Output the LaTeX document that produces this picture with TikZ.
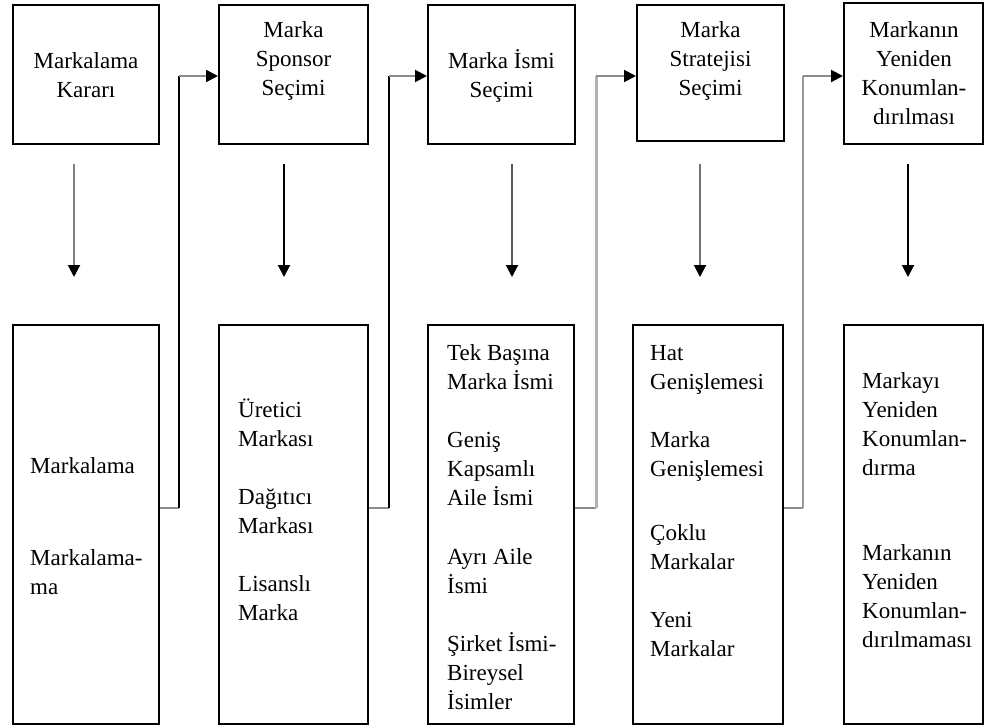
\documentclass[tikz,border=0pt]{standalone}
\usepackage{fontspec}
\setmainfont{Liberation Serif}
\usetikzlibrary{arrows.meta}

\begin{document}
\begin{tikzpicture}[x=1pt,y=-1pt,
  box/.style={draw=black,line width=2pt,inner sep=0pt},
  txt/.style={inner sep=0pt,font=\fontsize{23pt}{29pt}\selectfont},
  tip/.style={-{Triangle[length=12pt,width=12pt,color=black]}},
  seg/.style={line width=2pt,draw=#1},
  seg/.default=black
]
\useasboundingbox (0,0) rectangle (984,726);

% stage boxes (top row)
\node[box,minimum width=146pt,minimum height=139pt] (t1) at (86,74.5) {};
\node[box,minimum width=149pt,minimum height=139pt] (t2) at (293.5,74.5) {};
\node[box,minimum width=147pt,minimum height=139pt] (t3) at (501.5,74.5) {};
\node[box,minimum width=147pt,minimum height=136pt] (t4) at (710.5,73) {};
\node[box,minimum width=139pt,minimum height=141pt] (t5) at (913.5,73.5) {};

% option boxes (bottom row)
\node[box,minimum width=146pt,minimum height=399pt] (b1) at (86,524.5) {};
\node[box,minimum width=149pt,minimum height=399pt] (b2) at (293.5,524.5) {};
\node[box,minimum width=146pt,minimum height=399pt] (b3) at (501,524.5) {};
\node[box,minimum width=150pt,minimum height=399pt] (b4) at (708,524.5) {};
\node[box,minimum width=139pt,minimum height=399pt] (b5) at (913.5,524.5) {};

% stage titles
\node[txt,anchor=base] (l1) at (86,68) {\begin{tabular}[t]{@{}c@{}}Markalama\\Kararı\end{tabular}};
\node[txt,anchor=base] (l2) at (293.5,37) {\begin{tabular}[t]{@{}c@{}}Marka\\Sponsor\\Seçimi\end{tabular}};
\node[txt,anchor=base] (l3) at (501.5,68) {\begin{tabular}[t]{@{}c@{}}Marka İsmi\\Seçimi\end{tabular}};
\node[txt,anchor=base] (l4) at (710.5,37) {\begin{tabular}[t]{@{}c@{}}Marka\\Stratejisi\\Seçimi\end{tabular}};
\node[txt,anchor=base] (l5) at (914,37) {\begin{tabular}[t]{@{}c@{}}Markanın\\Yeniden\\Konumlan-\\dırılması\end{tabular}};

% options
\node[txt,anchor=base west] (o11) at (30,473) {Markalama};
\node[txt,anchor=base west] (o12) at (30,565) {\begin{tabular}[t]{@{}l@{}}Markalama-\\ma\end{tabular}};

\node[txt,anchor=base west] (o21) at (238,417) {\begin{tabular}[t]{@{}l@{}}Üretici\\Markası\end{tabular}};
\node[txt,anchor=base west] (o22) at (238,504) {\begin{tabular}[t]{@{}l@{}}Dağıtıcı\\Markası\end{tabular}};
\node[txt,anchor=base west] (o23) at (238,591) {\begin{tabular}[t]{@{}l@{}}Lisanslı\\Marka\end{tabular}};

\node[txt,anchor=base west] (o31) at (447,360) {\begin{tabular}[t]{@{}l@{}}Tek Başına\\Marka İsmi\end{tabular}};
\node[txt,anchor=base west] (o32) at (447,447) {\begin{tabular}[t]{@{}l@{}}Geniş\\Kapsamlı\\Aile İsmi\end{tabular}};
\node[txt,anchor=base west] (o33) at (447,564) {\begin{tabular}[t]{@{}l@{}}Ayrı Aile\\İsmi\end{tabular}};
\node[txt,anchor=base west] (o34) at (447,651) {\begin{tabular}[t]{@{}l@{}}Şirket İsmi-\\Bireysel\\İsimler\end{tabular}};

\node[txt,anchor=base west] (o41) at (650,360) {\begin{tabular}[t]{@{}l@{}}Hat\\Genişlemesi\end{tabular}};
\node[txt,anchor=base west] (o42) at (650,447) {\begin{tabular}[t]{@{}l@{}}Marka\\Genişlemesi\end{tabular}};
\node[txt,anchor=base west] (o43) at (650,540) {\begin{tabular}[t]{@{}l@{}}Çoklu\\Markalar\end{tabular}};
\node[txt,anchor=base west] (o44) at (650,627) {\begin{tabular}[t]{@{}l@{}}Yeni\\Markalar\end{tabular}};

\node[txt,anchor=base west] (o51) at (862,388) {\begin{tabular}[t]{@{}l@{}}Markayı\\Yeniden\\Konumlan-\\dırma\end{tabular}};
\node[txt,anchor=base west] (o52) at (862,560) {\begin{tabular}[t]{@{}l@{}}Markanın\\Yeniden\\Konumlan-\\dırılmaması\end{tabular}};

% downward arrows from each stage to its options
\draw[seg=black!50,tip] ([xshift=-12pt,yshift=-19pt]t1.south) -- ([xshift=-12pt,yshift=47pt]b1.north);
\draw[seg=black,tip] ([xshift=-9.5pt,yshift=-19pt]t2.south) -- ([xshift=-9.5pt,yshift=47pt]b2.north);
\draw[seg=black!65,tip] ([xshift=10.5pt,yshift=-19pt]t3.south) -- ([xshift=11pt,yshift=47pt]b3.north);
\draw[seg=black!55,tip] ([xshift=-10.5pt,yshift=-22pt]t4.south) -- ([xshift=-8pt,yshift=47pt]b4.north);
\draw[seg=black,tip] ([xshift=-5.5pt,yshift=-19pt]t5.south) -- ([xshift=-5.5pt,yshift=47pt]b5.north);

% links from each option box to the next stage
\coordinate (j1) at (179,508); \coordinate (k1) at (179,76);
\coordinate (j2) at (389,508); \coordinate (k2) at (389,76);
\coordinate (j3) at (596,508); \coordinate (k3) at (596,76);
\coordinate (j4) at (803,508); \coordinate (k4) at (803,76);

\draw[seg=black!45] (b1.east |- j1) -- (j1);
\draw[seg=black] (j1) -- (k1);
\draw[seg=black!45,tip] (k1) -- (k1 -| t2.west);

\draw[seg=black!45] (b2.east |- j2) -- (j2);
\draw[seg=black] (j2) -- (k2);
\draw[seg=black!45,tip] (k2) -- (k2 -| t3.west);

\draw[seg=black!45] (b3.east |- j3) -- (j3);
\draw[line width=3pt,draw=black!30] (j3) -- (k3);
\draw[seg=black!45,tip] (k3) -- (k3 -| t4.west);

\draw[seg=black!45] (b4.east |- j4) -- (j4);
\draw[line width=2.5pt,draw=black!40] (j4) -- (k4);
\draw[seg=black!45,tip] (k4) -- (k4 -| t5.west);
\end{tikzpicture}
\end{document}
